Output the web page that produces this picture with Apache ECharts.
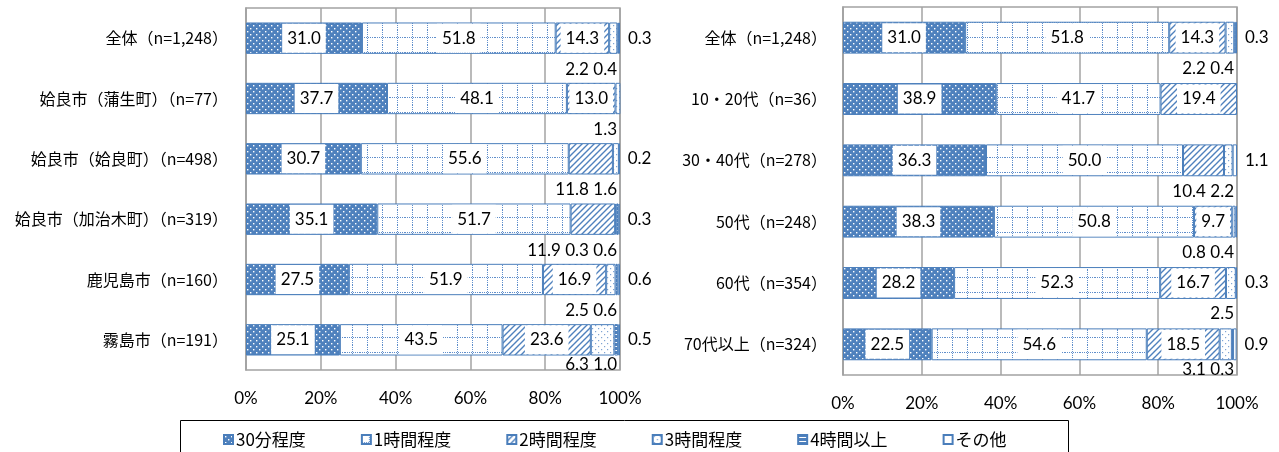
<!DOCTYPE html>
<html><head><meta charset="utf-8">
<script src="https://cdn.jsdelivr.net/npm/echarts@6/dist/echarts.min.js"></script>
<style>html,body{margin:0;padding:0;background:#fff}#main{width:1279px;height:452px}</style>
</head><body><div id="main"></div>
<script>
// ---------- data ----------
const seriesNames = ['30分程度', '1時間程度', '2時間程度', '3時間程度', '4時間以上', 'その他'];
const xTicks = [0, 20, 40, 60, 80, 100];

const categoriesLeft = ['全体（n=1,248）', '姶良市（蒲生町）（n=77）', '姶良市（姶良町）（n=498）', '姶良市（加治木町）（n=319）', '鹿児島市（n=160）', '霧島市（n=191）'];
const min30Left  = [31.0, 37.7, 30.7, 35.1, 27.5, 25.1];
const hour1Left  = [51.8, 48.1, 55.6, 51.7, 51.9, 43.5];
const hour2Left  = [14.3, 13.0, 11.8, 11.9, 16.9, 23.6];
const hour3Left  = [2.2, 1.3, 1.6, 0.3, 2.5, 6.3];
const hour4Left  = [0.4, 0, 0, 0.6, 0.6, 1.0];
const otherLeft  = [0.3, 0, 0.2, 0.3, 0.6, 0.5];
const hour2LabelBelowLeft = [false, false, true, true, false, false];

const categoriesRight = ['全体（n=1,248）', '10・20代（n=36）', '30・40代（n=278）', '50代（n=248）', '60代（n=354）', '70代以上（n=324）'];
const min30Right = [31.0, 38.9, 36.3, 38.3, 28.2, 22.5];
const hour1Right = [51.8, 41.7, 50.0, 50.8, 52.3, 54.6];
const hour2Right = [14.3, 19.4, 10.4, 9.7, 16.7, 18.5];
const hour3Right = [2.2, 0, 2.2, 0.8, 2.5, 3.1];
const hour4Right = [0.4, 0, 0, 0.4, 0, 0.3];
const otherRight = [0.3, 0, 1.1, 0, 0.3, 0.9];
const hour2LabelBelowRight = [false, false, true, false, false, false];

// ---------- patterns ----------
const BLUE = '#4F81BD';
function pat(w, h, draw) {
  const c = document.createElement('canvas'); c.width = w; c.height = h;
  const ctx = c.getContext('2d'); draw(ctx, w, h);
  return { image: c, repeat: 'repeat' };
}
const fills = [
  pat(6, 6, (x) => { x.fillStyle = BLUE; x.fillRect(0,0,6,6); x.fillStyle = '#fff'; x.fillRect(1,1,1.4,1.4); x.fillRect(4,4,1.4,1.4); }),
  pat(15, 15, (x) => { x.fillStyle = '#fff'; x.fillRect(0,0,15,15); x.fillStyle = '#5F8ECB';
      for (let i = 0; i < 15; i += 2) { x.fillRect(i,7,1,1); x.fillRect(7,i,1,1); } }),
  pat(6, 6, (x) => { x.fillStyle = '#fff'; x.fillRect(0,0,6,6); x.strokeStyle = BLUE; x.lineWidth = 1.4;
      x.beginPath(); x.moveTo(0,6); x.lineTo(6,0); x.moveTo(-1,1); x.lineTo(1,-1); x.moveTo(5,7); x.lineTo(7,5); x.stroke(); }),
  pat(6, 6, (x) => { x.fillStyle = '#fff'; x.fillRect(0,0,6,6); x.fillStyle = '#7FA3D3'; x.fillRect(1,1,1.2,1.2); x.fillRect(4,4,1.2,1.2); }),
  pat(4, 4, (x) => { x.fillStyle = BLUE; x.fillRect(0,0,4,4); x.fillStyle = '#fff'; x.fillRect(0,2,4,1); }),
  '#ffffff'
];

const chart = echarts.init(document.getElementById('main'), null, { renderer: 'canvas' });

const NUM_FONT = 'Lato';
function buildSeries(g, vals, h2Below) {
  const nRows = vals[0].length;
  const belowLast = [], belowText = [];
  for (let r = 0; r < nRows; r++) {
    const list = [];
    for (let s = 0; s < 6; s++) {
      const v = vals[s][r];
      if (!(v > 0)) continue;
      if (s === 3 || s === 4 || (s === 2 && h2Below[r])) list.push(s);
    }
    belowLast[r] = list.length ? list[list.length - 1] : -1;
    belowText[r] = list.map(s => vals[s][r].toFixed(1)).join(' ');
  }
  return vals.map((arr, s) => ({
    name: seriesNames[s], type: 'bar', stack: 'g' + g,
    xAxisIndex: g, yAxisIndex: g, barWidth: '52%',
    itemStyle: { color: fills[s], borderColor: '#4A7EBB', borderWidth: 1 },
    emphasis: { disabled: true },
    data: arr.map((v, r) => {
      if (!(v > 0)) return { value: '-', label: { show: false } };
      let label;
      if (s === 5) {
        label = { show: true, position: 'right', distance: 8, formatter: v.toFixed(1) };
      } else if (belowLast[r] === s) {
        label = { show: true, position: 'inside', formatter: belowText[r] };
      } else if (s === 3 || s === 4 || (s === 2 && h2Below[r])) {
        label = { show: false };
      } else {
        label = { show: true, position: 'inside', backgroundColor: '#fff', padding: [6, 5], formatter: v.toFixed(1) };
      }
      return { value: v, label };
    }),
    label: { color: '#000', fontFamily: NUM_FONT, fontSize: 17 },
    labelLayout: function (p) {
      const r = p.dataIndex;
      if (belowLast[r] !== s || s === 5) return {};
      let x100;
      try { x100 = chart.convertToPixel({ xAxisIndex: g }, 100); } catch (e) { x100 = p.rect.x + p.rect.width; }
      const cy = p.rect.y + p.rect.height / 2;
      const gridBottom = chart.convertToPixel({ yAxisIndex: g }, nRows - 1) + (chart.convertToPixel({ yAxisIndex: g }, 1) - chart.convertToPixel({ yAxisIndex: g }, 0)) / 2;
      const dy = Math.min(31, gridBottom - cy - 5);
      return { x: x100 - 3, y: cy + dy, align: 'right', verticalAlign: 'middle' };
    }
  }));
}

const seriesL = buildSeries(0, [min30Left, hour1Left, hour2Left, hour3Left, hour4Left, otherLeft], hour2LabelBelowLeft);
const seriesR = buildSeries(1, [min30Right, hour1Right, hour2Right, hour3Right, hour4Right, otherRight], hour2LabelBelowRight);

const GRID_GRAY = '#A3A3A3';
function xAxis(g, margin) {
  return {
    gridIndex: g, type: 'value', min: xTicks[0], max: xTicks[xTicks.length - 1], interval: xTicks[1] - xTicks[0],
    axisLabel: { formatter: '{value}%', fontFamily: NUM_FONT, fontSize: 17, color: '#000', margin: margin },
    axisLine: { show: false }, axisTick: { show: false },
    splitLine: { show: true, lineStyle: { color: GRID_GRAY, width: 1.5 } }
  };
}
function yAxis(g, cats, margin) {
  return {
    gridIndex: g, type: 'category', data: cats, inverse: true,
    axisLabel: { fontFamily: 'Noto Sans CJK JP', fontSize: 16, color: '#000', margin: margin },
    axisLine: { show: true, lineStyle: { color: GRID_GRAY, width: 1.5 } }, axisTick: { show: false }
  };
}

chart.setOption({
  animation: false,
  backgroundColor: '#fff',
  grid: [
    { left: 246, top: 8, width: 374, height: 362, show: true, borderColor: GRID_GRAY, borderWidth: 1.5 },
    { left: 843, top: 7, width: 394, height: 368, show: true, borderColor: GRID_GRAY, borderWidth: 1.5 }
  ],
  xAxis: [xAxis(0, 20), xAxis(1, 20)],
  yAxis: [yAxis(0, categoriesLeft, 18), yAxis(1, categoriesRight, 16)],
  legend: {
    data: seriesNames, left: 218, top: 426, icon: 'rect', itemWidth: 9, itemHeight: 9, itemGap: 55,
    textStyle: { fontFamily: 'Noto Sans CJK JP', fontSize: 17, color: '#000', padding: [0, 0, 0, -2] },
    selectedMode: false
  },
  graphic: [{ type: 'rect', shape: { x: 180.5, y: 420.5, width: 888, height: 40 }, style: { fill: 'none', stroke: '#000', lineWidth: 1 }, silent: true, z: -1 }],
  series: seriesL.concat(seriesR)
});
</script></body></html>
